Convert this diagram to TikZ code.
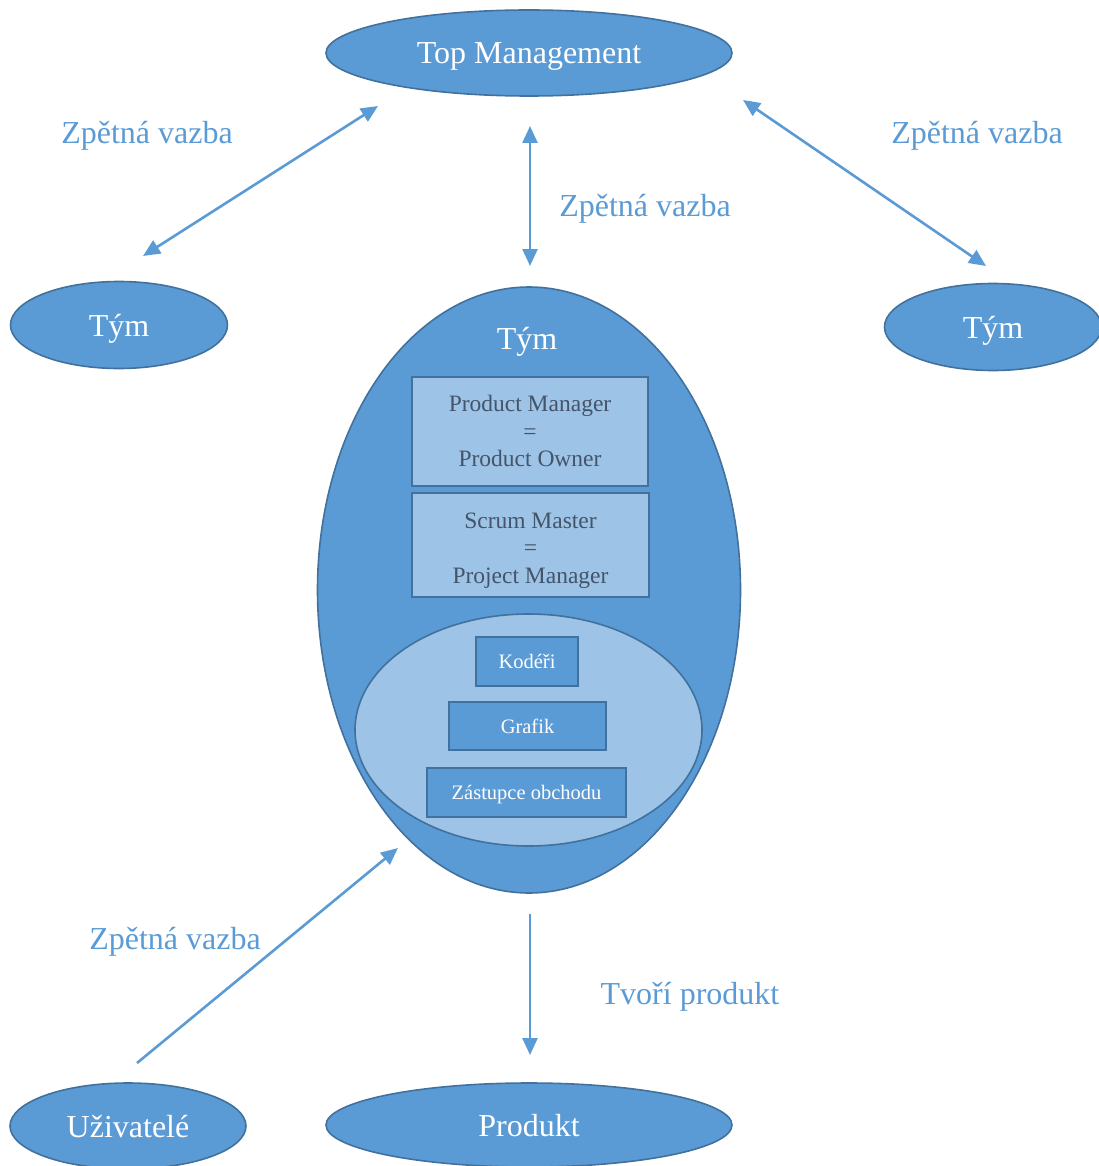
\documentclass[tikz,border=0pt]{standalone}
\usepackage{fontspec}
\setmainfont{Liberation Serif}
\usetikzlibrary{shapes.geometric,arrows.meta}
\definecolor{blueA}{HTML}{5B9BD5}
\definecolor{blueEdge}{HTML}{41719C}
\definecolor{blueLight}{HTML}{9DC3E6}
\definecolor{slate}{HTML}{44546A}
\tikzset{
  oval/.style={ellipse, draw=blueEdge, line width=1.6pt, fill=blueA, inner sep=0pt,
    text=white, text depth=0pt, font=\fontsize{32}{38}\selectfont},
  rolebox/.style={rectangle, draw=blueEdge, line width=2.5pt, fill=blueLight, inner sep=0pt},
  roletext/.style={text=slate, align=center, inner sep=0pt, font=\fontsize{23.5}{27.5}\selectfont},
  memberbox/.style={rectangle, draw=blueEdge, line width=2.5pt, fill=blueA, inner sep=0pt,
    text=white, text depth=0pt, font=\fontsize{20.5}{24}\selectfont},
  lbl/.style={text=blueA, text depth=0pt, font=\fontsize{32}{38}\selectfont, inner sep=0pt},
  link/.style={draw=blueA, line width=2.6pt},
  tip/.style={-{Triangle[length=17pt,width=15pt]}},
  tips/.style={{Triangle[length=17pt,width=15pt]}-{Triangle[length=17pt,width=15pt]}},
}
\begin{document}
\begin{tikzpicture}[x=1pt,y=-1pt]
\useasboundingbox (0,0) rectangle (1099,1166);
\begin{scope}
\clip (0,0) rectangle (1099,1166);
% outer ellipses
\node[oval, minimum width=406pt, minimum height=86pt] (top) at (529,53) {Top Management};
\node[oval, minimum width=217pt, minimum height=87pt] (teamL) at (119,325) {Tým};
\node[oval, minimum width=217pt, minimum height=87pt] (teamR) at (993,327) {Tým};
\node[oval, minimum width=236pt, minimum height=86pt] (users) at (128,1126) {Uživatelé};
\node[oval, minimum width=406pt, minimum height=84pt] (product) at (529,1125) {Produkt};
% central team
\node[oval, minimum width=423pt, minimum height=606pt] (team) at (529,590) {};
\node[text=white, text depth=0pt, font=\fontsize{32}{38}\selectfont, inner sep=0pt] (teamlabel) at (527,338) {Tým};
\node[rolebox, minimum width=236pt, minimum height=109pt] (po) at (530,431.5) {};
\node[roletext] (potext) at (530,431) {Product Manager\\=\\Product Owner};
\node[rolebox, minimum width=237pt, minimum height=104pt] (sm) at (530.5,545) {};
\node[roletext] (smtext) at (530.5,550.5) {Scrum Master\\=\\Project Manager};
\node[ellipse, draw=blueEdge, line width=1.6pt, fill=blueLight, inner sep=0pt,
  minimum width=347pt, minimum height=232pt] (crew) at (528.5,730) {};
\node[memberbox, minimum width=102pt, minimum height=49pt] (coders) at (527,661.5) {Kodéři};
\node[memberbox, minimum width=157pt, minimum height=48pt] (graphic) at (527.5,726) {Grafik};
\node[memberbox, minimum width=199pt, minimum height=49pt] (sales) at (526.5,792.5) {Zástupce obchodu};
\end{scope}
% connector ends
\coordinate (aL1) at (378,106); \coordinate (aL2) at (143,256);
\coordinate (aM1) at (530,126); \coordinate (aM2) at (530,266);
\coordinate (aR1) at (743,100); \coordinate (aR2) at (986,266);
\coordinate (aU1) at (137,1063); \coordinate (aU2) at (398,848);
\coordinate (aP1) at (530,914); \coordinate (aP2) at (530,1055);
\draw[link, tips] (aL2) -- (aL1);
\draw[link, tips] (aM2) -- (aM1);
\draw[link, tips] (aR1) -- (aR2);
\draw[link, tip] (aU1) -- (aU2);
\draw[link, tip] (aP1) -- (aP2);
% labels
\node[lbl] (fbL) at (147,132) {Zpětná vazba};
\node[lbl] (fbR) at (977,132) {Zpětná vazba};
\node[lbl] (fbM) at (645,205) {Zpětná vazba};
\node[lbl] (fbU) at (175,938) {Zpětná vazba};
\node[lbl] (makes) at (690,993) {Tvoří produkt};
\end{tikzpicture}
\end{document}
